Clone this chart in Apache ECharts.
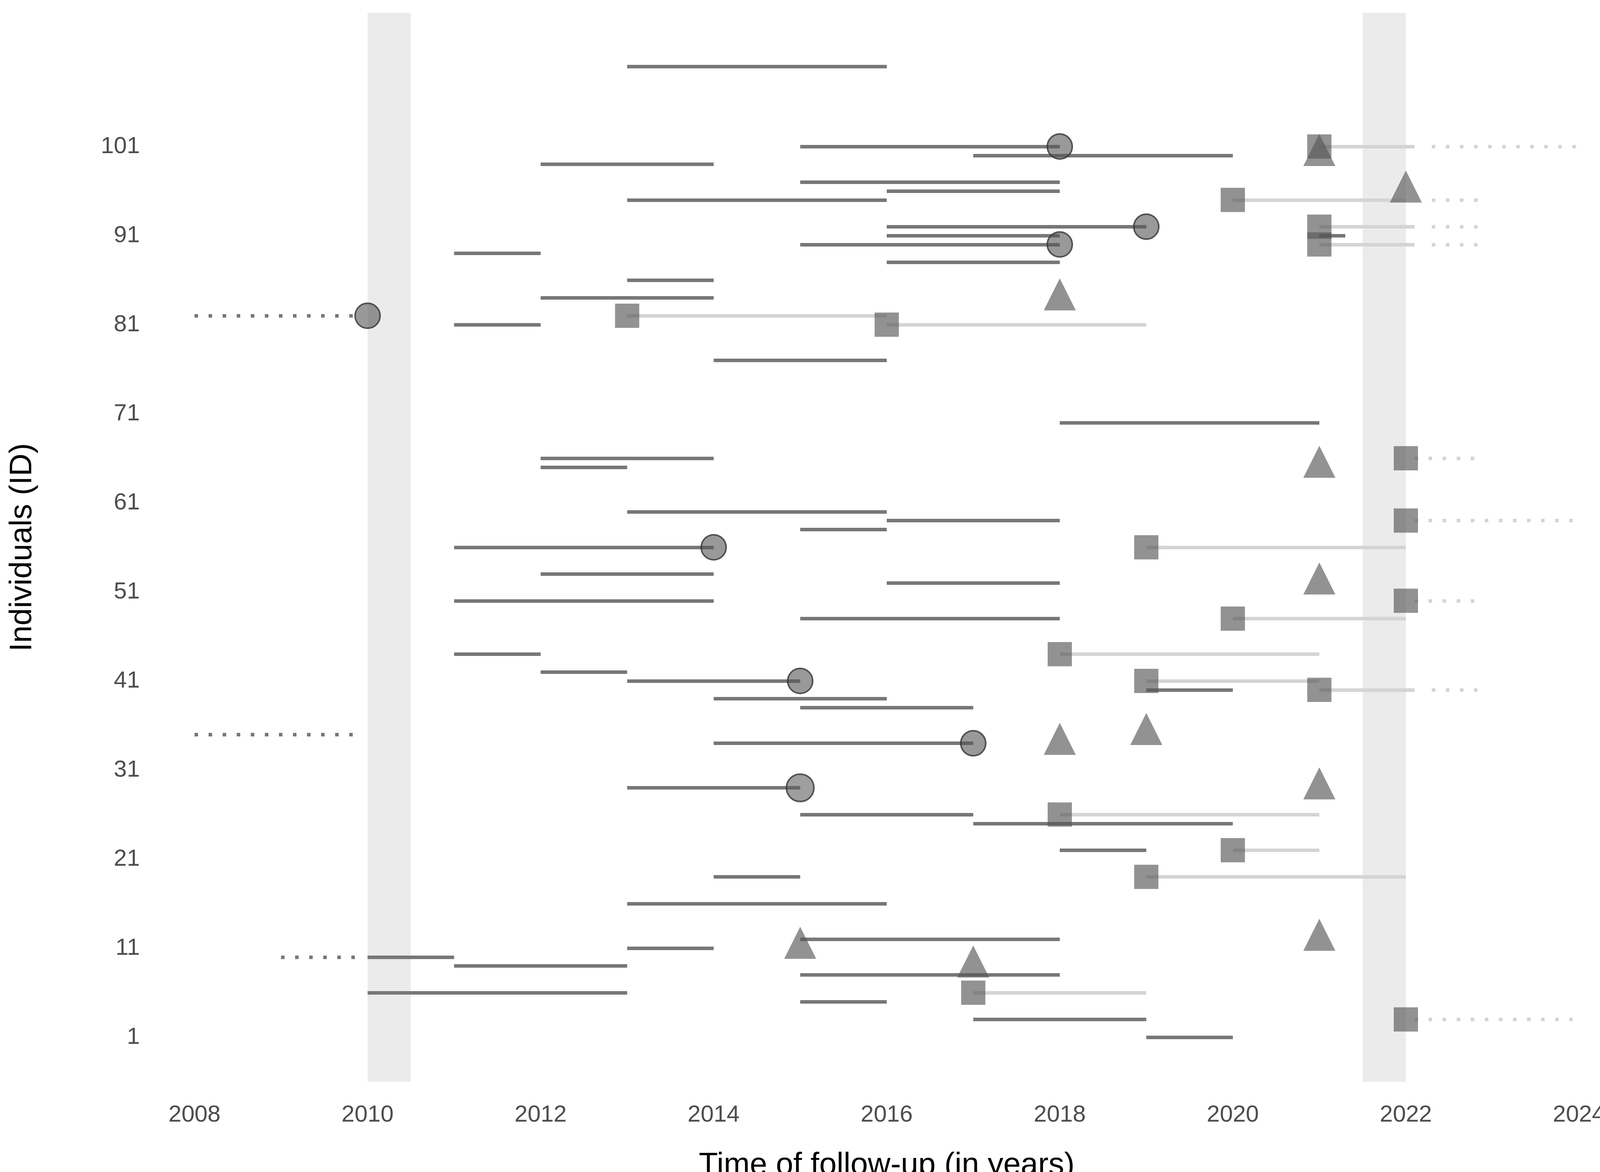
<!DOCTYPE html>
<html><head><meta charset="utf-8">
<script src="https://cdn.jsdelivr.net/npm/echarts@6/dist/echarts.min.js"></script>
<style>html,body{margin:0;background:#fff}#c{width:4200px;height:3000px}</style>
</head><body><div id="c"></div>
<script>
// dark follow-up segments: [start, end, id]
var darkSegs = [
 [2013,2016,110],[2015,2018,101],[2017,2020,100],[2012,2014,99],[2015,2018,97],[2016,2018,96],
 [2013,2016,95],[2016,2019,92],[2016,2018,91],[2021,2021.3,91],[2015,2018,90],[2011,2012,89],[2016,2018,88],
 [2013,2014,86],[2012,2014,84],[2011,2012,81],[2014,2016,77],[2018,2021,70],[2012,2014,66],
 [2012,2013,65],[2013,2016,60],[2016,2018,59],[2015,2016,58],[2011,2014,56],[2012,2014,53],
 [2016,2018,52],[2011,2014,50],[2015,2018,48],[2011,2012,44],[2012,2013,42],[2013,2015,41],
 [2019,2020,40],[2014,2016,39],[2015,2017,38],[2014,2017,34],[2013,2015,29],[2015,2017,26],
 [2017,2020,25],[2018,2019,22],[2014,2015,19],[2013,2016,16],[2015,2018,12],[2013,2014,11],
 [2010,2011,10],[2011,2013,9],[2015,2018,8],[2010,2013,6],[2015,2016,5],[2017,2019,3],[2019,2020,1]
];
// light segments after a square event
var lightSegs = [
 [2021,2022.1,101],[2020,2022,95],[2021,2022.1,92],[2021,2022.1,90],[2013,2016,82],[2016,2019,81],
 [2019,2022,56],[2020,2022,48],[2018,2021,44],[2019,2021,41],[2021,2022.1,40],[2018,2021,26],
 [2020,2021,22],[2019,2022,19],[2017,2019,6]
];
var darkDots = [[2008,2009.9,82],[2008,2009.9,35],[2009,2009.9,10]];
var lightDots = [
 [2022.3,2024,101],[2022.3,2022.9,95],[2022.3,2022.9,92],[2022.3,2022.9,90],[2022.1,2022.9,66],
 [2022.1,2024,59],[2022.1,2022.9,50],[2022.3,2022.9,40],[2022.1,2024,3]
];
var circles = [[2018,101],[2019,92],[2018,90],[2010,82],[2014,56],[2015,41],[2017,34],[2015,29]];
var squares = [[2021,101],[2020,95],[2021,92],[2021,90],[2013,82],[2016,81],[2022,66],[2022,59],
 [2019,56],[2022,50],[2020,48],[2018,44],[2019,41],[2021,40],[2018,26],[2020,22],[2019,19],[2017,6],[2022,3]];
var triangles = [[2021,100.6],[2022,96.5],[2018,84.4],[2021,65.6],[2021,52.5],[2019,35.6],[2018,34.5],
 [2021,29.5],[2015,11.6],[2021,12.5],[2017,9.5]];
var yTicks = [1,11,21,31,41,51,61,71,81,91,101];

function toLines(a){ return a.map(function(s){ return {coords:[[s[0],s[2]],[s[1],s[2]]]}; }); }
function lineSeries(a,color,type){
  return {type:'lines',coordinateSystem:'cartesian2d',data:toLines(a),silent:true,
    lineStyle:{color:color,width:9,type:type,opacity:1,dashOffset:0}};
}
var chart = echarts.init(document.getElementById('c'));
chart.setOption({
  backgroundColor:'#fff',
  grid:{left:498,right:158,top:33,bottom:231,outerBoundsMode:'none',containLabel:false},
  xAxis:{type:'value',min:2008,max:2024,interval:2,
    name:'Time of follow-up (in years)',nameLocation:'middle',nameGap:175,
    nameTextStyle:{fontSize:80,color:'#000',fontFamily:'Liberation Sans'},
    axisLine:{show:false},axisTick:{show:false},splitLine:{show:false},
    axisLabel:{fontSize:60,color:'#4d4d4d',margin:55,fontFamily:'Liberation Sans',
      formatter:function(v){return String(v);}}},
  yAxis:{type:'value',min:-4,max:116,
    name:'Individuals (ID)',nameLocation:'middle',nameGap:400,
    nameTextStyle:{fontSize:80,color:'#000',fontFamily:'Liberation Sans'},
    axisLine:{show:false},axisTick:{show:false},splitLine:{show:false},
    axisLabel:{customValues:yTicks,fontSize:60,color:'#4d4d4d',margin:140,fontFamily:'Liberation Sans'}},
  series:[
    {type:'scatter',data:[],silent:true,markArea:{silent:true,itemStyle:{color:'#ebebeb'},
      data:[[{xAxis:2010},{xAxis:2010.5}],[{xAxis:2021.5},{xAxis:2022}]]}},
    lineSeries(lightSegs,'#d4d4d4','solid'),
    lineSeries(lightDots,'#d4d4d4',[9,27]),
    lineSeries(darkSegs,'#777777','solid'),
    lineSeries(darkDots,'#777777',[9,27]),
    {type:'scatter',data:squares,symbol:'rect',symbolSize:62,itemStyle:{color:'rgba(85,85,85,0.8)'}},
    {type:'scatter',data:triangles,symbol:'triangle',symbolSize:82,itemStyle:{color:'rgba(85,85,85,0.8)'}},
    {type:'scatter',data:circles,symbol:'circle',symbolSize:64,
      itemStyle:{color:'rgba(85,85,85,0.75)',borderColor:'#333',borderWidth:4}}
  ]
});
</script></body></html>
